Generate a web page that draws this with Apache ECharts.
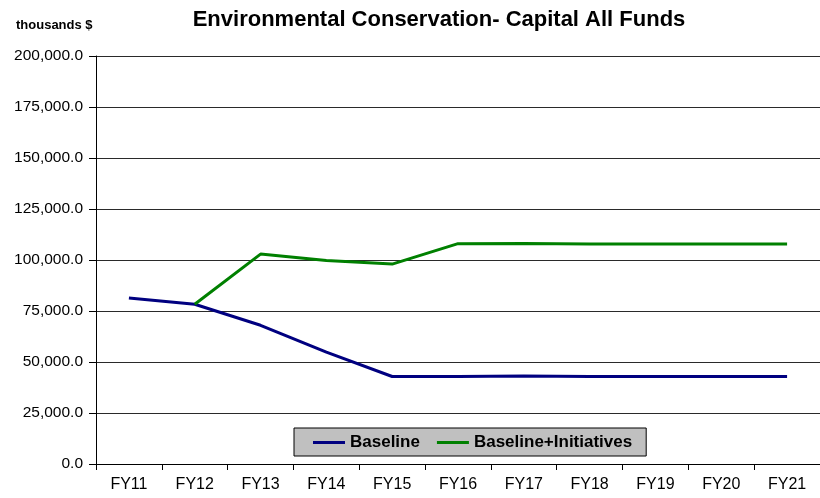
<!DOCTYPE html>
<html>
<head>
<meta charset="utf-8">
<script src="https://cdn.jsdelivr.net/npm/echarts@6/dist/echarts.min.js"></script>
<style>
  html, body { margin: 0; padding: 0; background: #fff; }
  #chart { width: 820px; height: 498px; }
</style>
</head>
<body>
<div id="chart"></div>
<script>
// Fiscal years on the category axis
const years = ['FY11', 'FY12', 'FY13', 'FY14', 'FY15', 'FY16', 'FY17', 'FY18', 'FY19', 'FY20', 'FY21'];
// Capital spending, thousands of dollars
const baseline = [81400, 78300, 68000, 54800, 42900, 42900, 43100, 42900, 42900, 42900, 42900];
const baselinePlusInitiatives = [null, 78300, 102900, 99700, 98000, 108000, 108100, 107900, 107900, 107900, 107900];

const chart = echarts.init(document.getElementById('chart'), null, { renderer: 'canvas' });

chart.setOption({
  backgroundColor: '#ffffff',
  animation: false,
  textStyle: { fontFamily: 'Liberation Sans, Arial, sans-serif' },
  title: [
    {
      text: 'Environmental Conservation- Capital All Funds',
      left: 434, top: 4, textAlign: 'center',
      textStyle: { fontSize: 22, fontWeight: 'bold', color: '#000' }
    },
    {
      text: 'thousands $',
      left: 11, top: 14,
      textStyle: { fontSize: 13, fontWeight: 'bold', color: '#000' }
    }
  ],
  legend: {
    data: ['Baseline', 'Baseline+Initiatives'],
    left: 294, top: 428,
    padding: [6, 14, 5, 19],
    backgroundColor: '#c0c0c0',
    borderColor: '#000',
    borderWidth: 1,
    itemWidth: 32, itemHeight: 3,
    itemGap: 17,
    icon: 'rect',
    textStyle: { fontSize: 17, fontWeight: 'bold', color: '#000' }
  },
  grid: { left: 96, right: -3, top: 56, bottom: 34, containLabel: false },
  xAxis: {
    type: 'category',
    data: years,
    boundaryGap: true,
    axisLine: { lineStyle: { color: '#000', width: 1 } },
    axisTick: { show: true, length: 6, lineStyle: { color: '#000' } },
    axisLabel: { color: '#000', fontSize: 16, margin: 13 },
    splitLine: { show: false }
  },
  yAxis: {
    type: 'value',
    min: 0, max: 200000, interval: 25000,
    axisLine: { show: true, lineStyle: { color: '#000', width: 1 } },
    axisTick: { show: true, length: 7, inside: false, lineStyle: { color: '#000' } },
    axisLabel: {
      color: '#000', fontSize: 15.5, margin: 13,
      formatter: v => v.toLocaleString('en-US', { minimumFractionDigits: 1, maximumFractionDigits: 1 })
    },
    splitLine: { show: true, lineStyle: { color: '#2a2a2a', width: 1 } }
  },
  series: [
    {
      name: 'Baseline',
      type: 'line',
      data: baseline,
      symbol: 'none',
      lineStyle: { color: '#000080', width: 3 },
      itemStyle: { color: '#000080' }
    },
    {
      name: 'Baseline+Initiatives',
      type: 'line',
      data: baselinePlusInitiatives,
      symbol: 'none',
      lineStyle: { color: '#008000', width: 3 },
      itemStyle: { color: '#008000' }
    }
  ]
});
</script>
</body>
</html>
